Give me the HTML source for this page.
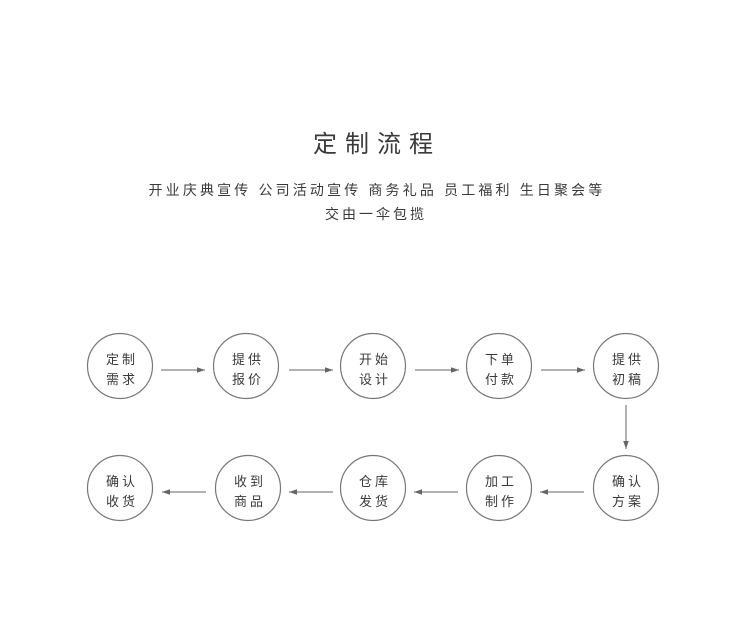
<!DOCTYPE html>
<html><head><meta charset="utf-8"><style>
html,body{margin:0;padding:0;background:#fff;}
body{width:750px;height:626px;overflow:hidden;font-family:"Liberation Sans","Noto Sans CJK SC",sans-serif;}
</style></head><body>
<svg width="750" height="626" viewBox="0 0 750 626" xmlns="http://www.w3.org/2000/svg" font-family="Liberation Sans, Noto Sans CJK SC, sans-serif">
<defs>
<marker id="a" viewBox="0 0 10 10" refX="10" refY="5" markerWidth="8" markerHeight="8" markerUnits="userSpaceOnUse" orient="auto">
<path d="M0,1.5 L10,5 L0,8.5 z" fill="#666"/>
</marker>
</defs>
<text x="377" y="152" text-anchor="middle" font-size="24" letter-spacing="8" fill="#3a3a3a">定制流程</text>
<text x="377" y="195" text-anchor="middle" font-size="14" letter-spacing="3.15" fill="#3a3a3a">开业庆典宣传 公司活动宣传 商务礼品 员工福利 生日聚会等</text>
<text x="376" y="219" text-anchor="middle" font-size="14" letter-spacing="3" fill="#3a3a3a">交由一伞包揽</text>
<g fill="none" stroke="#777" stroke-width="1.2">
<circle cx="120" cy="366" r="32.5"/>
<circle cx="246" cy="366" r="32.5"/>
<circle cx="373" cy="366" r="32.5"/>
<circle cx="499" cy="366" r="32.5"/>
<circle cx="626" cy="366" r="32.5"/>
<circle cx="120" cy="488" r="32.5"/>
<circle cx="248" cy="488" r="32.5"/>
<circle cx="373" cy="488" r="32.5"/>
<circle cx="499" cy="488" r="32.5"/>
<circle cx="626" cy="488" r="32.5"/>
</g>
<g stroke="#666" stroke-width="1" marker-end="url(#a)">
<line x1="161" y1="370" x2="205" y2="370"/>
<line x1="289" y1="370" x2="333" y2="370"/>
<line x1="415" y1="370" x2="459" y2="370"/>
<line x1="541" y1="370" x2="585" y2="370"/>
<line x1="626" y1="405" x2="626" y2="449"/>
<line x1="584" y1="492" x2="540" y2="492"/>
<line x1="458" y1="492" x2="414" y2="492"/>
<line x1="333" y1="492" x2="289" y2="492"/>
<line x1="206" y1="492" x2="162" y2="492"/>
</g>
<g font-size="13" fill="#3a3a3a" text-anchor="middle" letter-spacing="3">
<text x="122" y="364">定制</text><text x="122" y="384">需求</text>
<text x="248" y="364">提供</text><text x="248" y="384">报价</text>
<text x="375" y="364">开始</text><text x="375" y="384">设计</text>
<text x="501" y="364">下单</text><text x="501" y="384">付款</text>
<text x="628" y="364">提供</text><text x="628" y="384">初稿</text>
<text x="122" y="486">确认</text><text x="122" y="506">收货</text>
<text x="250" y="486">收到</text><text x="250" y="506">商品</text>
<text x="375" y="486">仓库</text><text x="375" y="506">发货</text>
<text x="501" y="486">加工</text><text x="501" y="506">制作</text>
<text x="628" y="486">确认</text><text x="628" y="506">方案</text>
</g>
</svg>
</body></html>
